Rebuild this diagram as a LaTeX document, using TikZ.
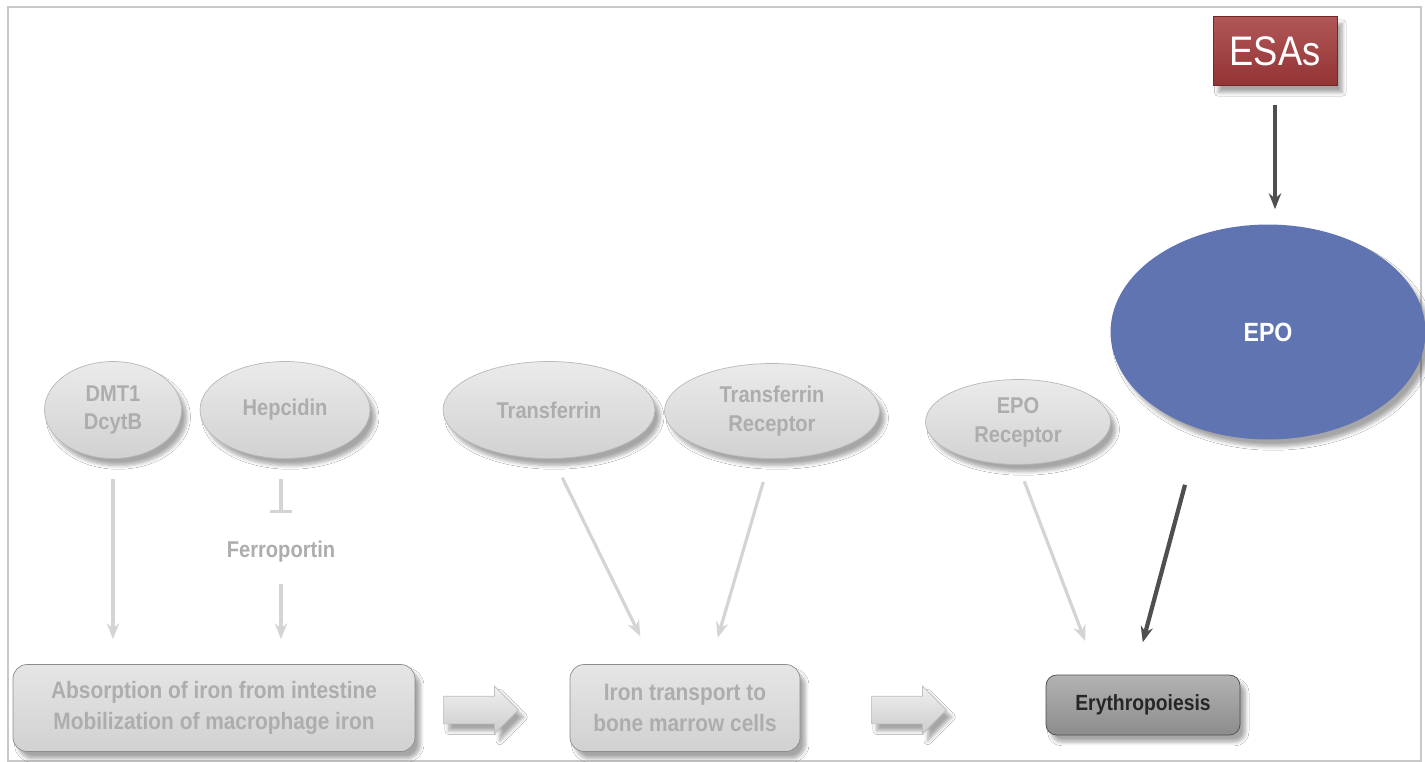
\documentclass[tikz,border=0pt]{standalone}
\usepackage{fontspec}
\setmainfont{Liberation Sans}
\newfontfamily\narrowsf[FakeStretch=0.88]{Liberation Sans}
\usetikzlibrary{arrows.meta,shapes.geometric,shapes.arrows,shadows.blur}
\definecolor{nodegrey}{HTML}{DEDEDE}
\definecolor{textgrey}{HTML}{ADADAD}
\definecolor{linegrey}{HTML}{D4D4D4}
\definecolor{darkline}{HTML}{4F4F4F}
\definecolor{epoblue}{HTML}{6174B2}
\definecolor{esared}{HTML}{A3393A}
\definecolor{framegrey}{HTML}{C8C8C8}
\tikzset{
  soft shadow/.style={blur shadow={shadow blur steps=6,shadow xshift=3pt,shadow yshift=-4pt,shadow opacity=35}},
  light text/.style={text=textgrey,font=\narrowsf\bfseries\fontsize{13}{16.5}\selectfont,align=center},
  grey node/.style={ellipse,draw=white!72!black,top color=white!92!black,bottom color=white!82!black,inner sep=0pt,light text,soft shadow},
  grey box/.style={rectangle,rounded corners=8pt,draw=white!55!black,top color=white!90!black,bottom color=white!82!black,inner sep=0pt,soft shadow,light text,font=\narrowsf\bfseries\fontsize{13.5}{17.5}\selectfont},
  fat arrow/.style={single arrow,draw=white!75!black,top color=white!94!black,bottom color=white!80!black,minimum height=1.5cm,inner xsep=0pt,inner ysep=0.27cm,single arrow head extend=0.2cm,soft shadow,anchor=west},
  thin arrow/.style={draw=linegrey,line width=1.8pt,-{Stealth[length=9pt,width=7pt]}},
  dark arrow/.style={draw=darkline,line width=2.4pt,-{Stealth[length=9pt,width=7pt]}}
}
\begin{document}
\begin{tikzpicture}[x=0.02cm,y=-0.02cm]
\useasboundingbox (0,0) rectangle (1425,761);
\fill[white] (0,0) rectangle (1425,761);
\draw[framegrey,line width=0.8pt] (8,7) rectangle (1421,761);
% top row
\node[grey node,minimum width=2.74cm,minimum height=1.94cm] (dmt) at (113,410) {DMT1\\DcytB};
\node[grey node,minimum width=3.4cm,minimum height=1.94cm] (hep) at (285,410) {Hepcidin};
\node[grey node,minimum width=4.24cm,minimum height=1.94cm] (tf) at (549,410) {Transferrin};
\node[grey node,minimum width=4.3cm,minimum height=1.9cm] (tfr) at (772,411) {Transferrin\\Receptor};
\node[grey node,minimum width=3.7cm,minimum height=1.7cm] (epor) at (1018,422) {EPO\\Receptor};
\node[ellipse,fill=epoblue,minimum width=6.3cm,minimum height=4.3cm,inner sep=0pt,soft shadow,text=white,font=\narrowsf\bfseries\fontsize{15}{17}\selectfont] (epo) at (1268,332) {EPO};
\node[rectangle,top color=esared!85!white,bottom color=esared!90!black,draw=esared!70!black,minimum width=2.48cm,minimum height=1.38cm,soft shadow,text=white,font=\narrowsf\fontsize{23.5}{27}\selectfont] (esas) at (1275,51) {ESAs};
\node[light text] (ferro) at (281,552) {Ferroportin};
% bottom row
\node[grey box,minimum width=8.04cm,minimum height=1.74cm] (absorb) at (214,708) {Absorption of iron from intestine\\Mobilization of macrophage iron};
\node[grey box,minimum width=4.6cm,minimum height=1.74cm] (transport) at (685,708) {Iron transport to\\bone marrow cells};
\node[rectangle,rounded corners=6pt,draw=white!30!black,top color=white!70!black,bottom color=white!55!black,minimum width=3.88cm,minimum height=1.2cm,soft shadow,text=black!85,font=\narrowsf\bfseries\fontsize{12.5}{14}\selectfont] (ery) at (1143,705) {Erythropoiesis};
\node[fat arrow] (step1) at (443,710) {};
\node[fat arrow] (step2) at (871,710) {};
% connectors
\draw[thin arrow,shorten <=0.4cm,shorten >=0.5cm] (dmt.south) -- (dmt.south |- absorb.north);
\draw[draw=linegrey,line width=1.8pt,-{Bar[width=12pt]},shorten <=0.4cm,shorten >=0.45cm] (hep.south -| ferro) -- (ferro.north);
\draw[thin arrow,shorten <=0.3cm,shorten >=0.5cm] (ferro.south) -- (ferro |- absorb.north);
\draw[thin arrow,shorten <=0.42cm,shorten >=0.62cm] ([xshift=0.08cm]tf.south) -- ([xshift=-0.62cm]transport.north);
\draw[thin arrow,shorten <=0.48cm,shorten >=0.55cm] ([xshift=-0.04cm]tfr.south) -- ([xshift=0.5cm]transport.north);
\draw[thin arrow,shorten <=0.35cm,shorten >=0.72cm] (epor.south) -- ([xshift=-0.9cm]ery.north);
\draw[dark arrow,shorten <=1.15cm,shorten >=0.67cm] (epo.235) -- ([xshift=-0.18cm]ery.north);
\draw[dark arrow,line width=2pt,shorten <=0.38cm,shorten >=0.3cm] (esas.south) -- (esas.south |- epo.north);
\end{tikzpicture}
\end{document}
